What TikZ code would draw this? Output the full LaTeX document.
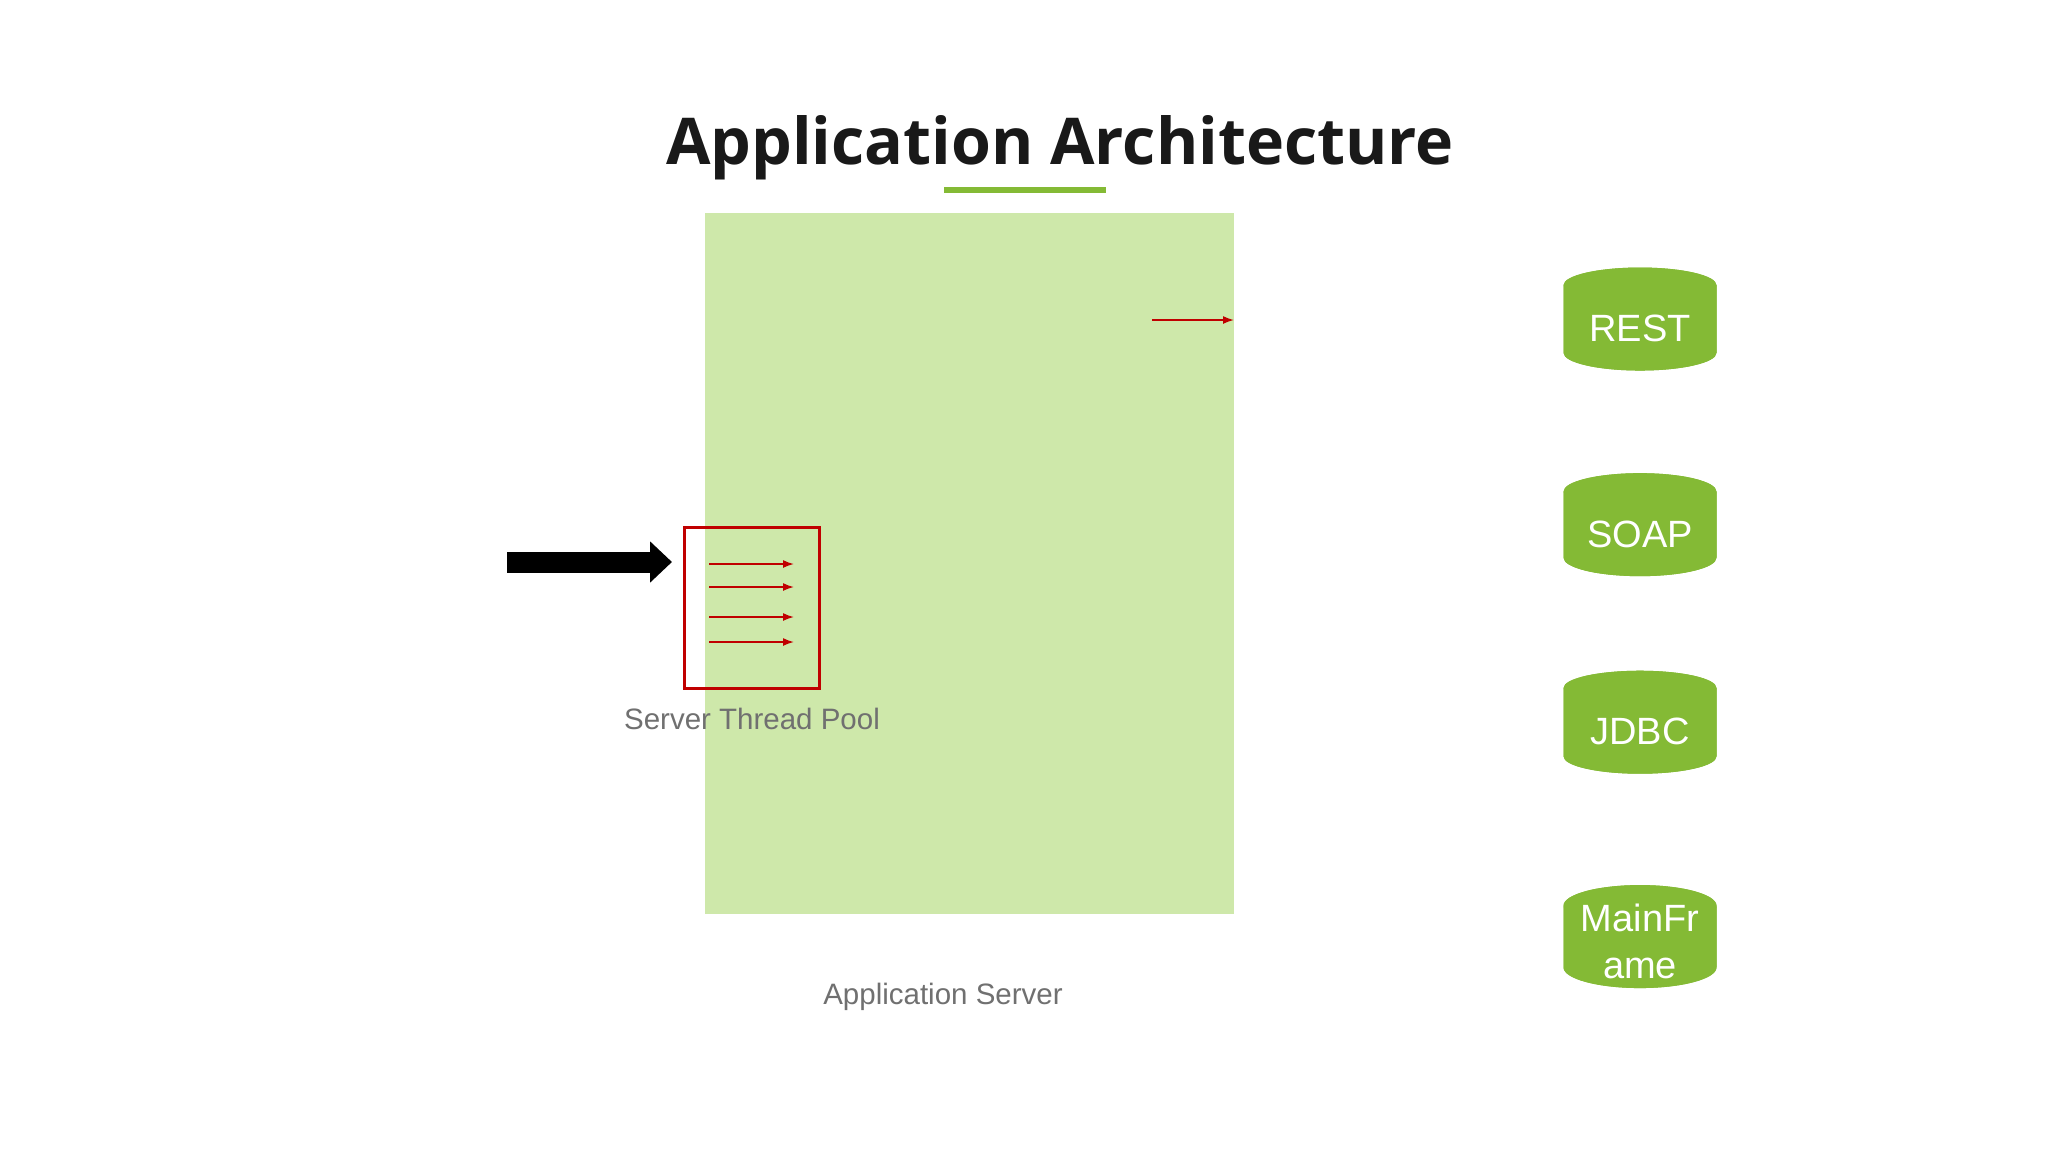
\documentclass[tikz,border=0pt]{standalone}
\usepackage{fontspec}
\setmainfont{Liberation Sans}
\newfontfamily\titlefont{Open Sans}
\usetikzlibrary{shapes.geometric,arrows.meta}
\definecolor{lgreen}{HTML}{CEE8AA}
\definecolor{dgreen}{HTML}{84BA35}
\definecolor{dred}{HTML}{C00000}
\definecolor{tgray}{HTML}{707070}
\begin{document}
\begin{tikzpicture}[x=1pt,y=-1pt,
  cyl/.style={cylinder,shape border rotate=90,aspect=0.35,draw=none,fill=dgreen,cylinder uses custom fill,cylinder body fill=dgreen,cylinder end fill=dgreen,minimum width=153pt,minimum height=103pt,text=white,font=\fontsize{38}{40}\selectfont,align=center,inner sep=0pt},
  ra/.style={dred,line width=1.6pt,-{Latex[length=11pt,width=8pt]}},
  lbl/.style={text=tgray,font=\fontsize{29.5}{31}\selectfont}]
\useasboundingbox (0,0) rectangle (2048,1152);
\fill[white] (0,0) rectangle (2048,1152);
\node[font=\titlefont\bfseries\fontsize{64.5}{75}\selectfont,text=black!90] (title) at (1060,148) {Application Architecture};
\draw[dgreen,line width=6pt] (944,190) -- (1106,190);
\fill[lgreen] (705,213) rectangle (1234,914);
\coordinate (sa) at (1152,320); \coordinate (sb) at (1234,320);
\draw[ra] (sa) -- (sb);
\coordinate (ba) at (507,562); \coordinate (bb) at (672,562);
\draw[line width=21pt,-{Triangle[length=22pt,width=40pt]}] (ba) -- (bb);
\node[draw=dred,line width=3pt,minimum width=135pt,minimum height=161pt,inner sep=0pt] (pool) at (751.5,607.5) {};
\foreach \y [count=\i] in {564,587,617,642}{
  \coordinate (p\i) at (709,\y); \coordinate (q\i) at (794,\y);
  \draw[ra] (p\i) -- (q\i);}
\node[lbl] (pl) at (752,719) {Server Thread Pool};
\node[lbl] (as) at (943,997) {Application Server};
\node[cyl] (rest) at (1640,328) {REST};
\node[cyl] (soap) at (1640,534) {SOAP};
\node[cyl] (jdbc) at (1640,731) {JDBC};
\node[cyl] (mf) at (1640,947) {\smash{\raisebox{-6pt}{\begin{tabular}{@{}c@{}}MainFr\\[7pt]ame\end{tabular}}}};
\end{tikzpicture}
\end{document}
